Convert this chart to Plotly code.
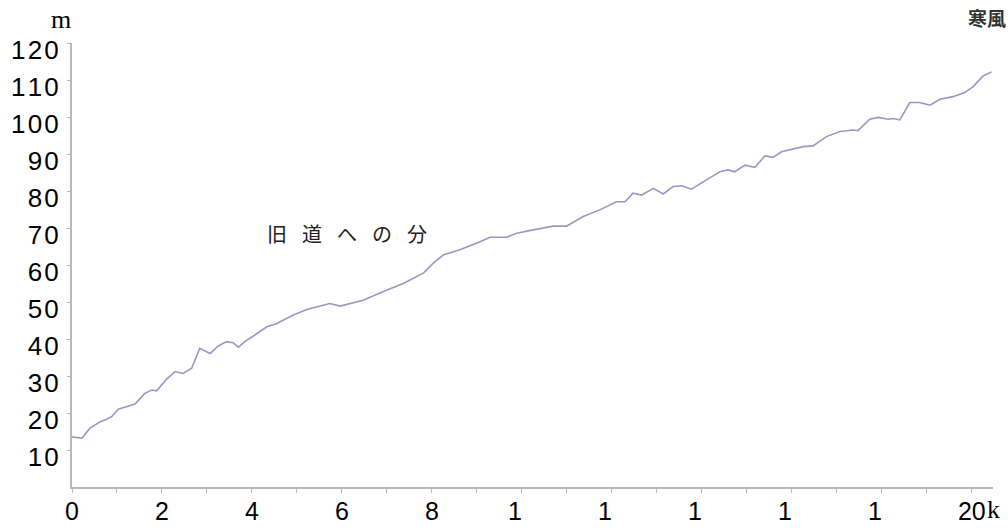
import plotly.graph_objects as go

# Elevation profile along the route (distance in km, elevation in m)
distance_km = [0.00, 0.22, 0.40, 0.62, 0.77, 0.88, 1.03, 1.22, 1.40, 1.62, 1.77, 1.88, 1.96,
               2.10, 2.29, 2.47, 2.66, 2.84, 3.07, 3.25, 3.44, 3.58, 3.70, 3.84, 4.03, 4.33,
               4.55, 4.92, 5.22, 5.73, 5.96, 6.47, 6.99, 7.36, 7.81, 8.03, 8.25, 8.62, 9.07,
               9.29, 9.66, 9.88, 10.25, 10.70, 10.99, 11.36, 11.73, 12.10, 12.29, 12.47, 12.66,
               12.92, 13.14, 13.36, 13.55, 13.77, 14.10, 14.40, 14.58, 14.73, 14.96, 15.18,
               15.40, 15.58, 15.77, 16.03, 16.25, 16.47, 16.77, 17.07, 17.36, 17.47, 17.73,
               17.92, 18.14, 18.25, 18.40, 18.62, 18.84, 19.07, 19.29, 19.58, 19.84, 20.03,
               20.25, 20.44]
elevation_m = [13.5, 13.2, 15.9, 17.6, 18.3, 19.0, 21.0, 21.7, 22.4, 25.3, 26.2, 26.0, 27.1,
               29.1, 31.2, 30.7, 32.1, 37.5, 36.1, 38.1, 39.3, 39.0, 37.8, 39.3, 40.8, 43.3,
               44.2, 46.5, 48.0, 49.6, 48.9, 50.5, 53.2, 55.0, 57.8, 60.5, 62.7, 64.1, 66.3,
               67.5, 67.5, 68.6, 69.5, 70.5, 70.5, 73.1, 74.9, 77.1, 77.1, 79.4, 78.9,
               80.7, 79.2, 81.2, 81.4, 80.5, 83.0, 85.2, 85.7, 85.2, 87.0, 86.4,
               89.5, 89.1, 90.6, 91.3, 92.0, 92.2, 94.7, 96.1, 96.5, 96.3, 99.4,
               99.9, 99.4, 99.6, 99.2, 103.9, 103.9, 103.2, 104.8, 105.5, 106.6, 108.2,
               111.1, 112.2]

# Axis ticks
x_tickvals = list(range(0, 21))
x_ticktext = ["0", "", "2", "", "4", "", "6", "", "8", "",
              "1\u2007", "", "1\u2007", "", "1\u2007", "", "1\u2007", "", "1\u2007", "", "20"]
y_tickvals = [10, 20, 30, 40, 50, 60, 70, 80, 90, 100, 110, 120]
y_ticktext = ["\u200a".join(str(v)) for v in y_tickvals]

# Labels
place_label = "旧\u2002\u2005道\u2002\u2005へ\u2002\u2005の\u2002\u2005分"
place_label_pos = (4.29, 68.4)
summit_label = "<b>寒風</b>"

sans = "Noto Sans CJK JP"
digits = "Liberation Sans"
serif = "Liberation Serif"
axis_grey = "#b8b8b8"

fig = go.Figure()
fig.add_trace(go.Scatter(
    x=distance_km, y=elevation_m, mode="lines",
    line=dict(color="#9898c2", width=1.6),
    hoverinfo="skip", showlegend=False,
))

fig.update_layout(
    width=1008, height=528, autosize=False,
    margin=dict(l=72, r=15, t=43, b=41, autoexpand=False),
    paper_bgcolor="white", plot_bgcolor="white",
    font=dict(family=sans, color="black"),
    xaxis=dict(
        range=[0, 20.47], tickmode="array", tickvals=x_tickvals, ticktext=x_ticktext,
        showgrid=False, zeroline=False, showline=True, linecolor=axis_grey, linewidth=2,
        ticks="outside", ticklen=4, tickcolor=axis_grey, tickwidth=1, automargin=False,
        tickfont=dict(family=digits, size=25, color="black"), ticklabelstandoff=-3,
    ),
    yaxis=dict(
        range=[0, 120], tickmode="array", tickvals=y_tickvals, ticktext=y_ticktext,
        showgrid=False, zeroline=False, showline=True, linecolor=axis_grey, linewidth=2,
        ticks="outside", ticklen=3, tickcolor=axis_grey, tickwidth=1, automargin=False,
        tickfont=dict(family=digits, size=26, color="black"), ticklabelstandoff=3,
        ticklabelshift=7,
    ),
)

fig.add_annotation(x=place_label_pos[0], y=place_label_pos[1], xref="x", yref="y",
                   text=place_label, showarrow=False, xanchor="left", yanchor="middle",
                   font=dict(family=sans, size=20, color="#222"))
fig.add_annotation(x=0.971, y=1.058, xref="paper", yref="paper", text=summit_label,
                   showarrow=False, xanchor="left", yanchor="middle",
                   font=dict(family=sans, size=19, color="#333"))
fig.add_annotation(x=-0.012, y=1.054, xref="paper", yref="paper", text="m",
                   showarrow=False, xanchor="center", yanchor="middle",
                   font=dict(family=serif, size=26, color="black"))
fig.add_annotation(x=20.47, y=0, xref="x", yref="paper", text="k", showarrow=False,
                   xanchor="left", yanchor="top", yshift=-6, xshift=-8,
                   font=dict(family=serif, size=26, color="black"))

fig.write_html("out.html")
